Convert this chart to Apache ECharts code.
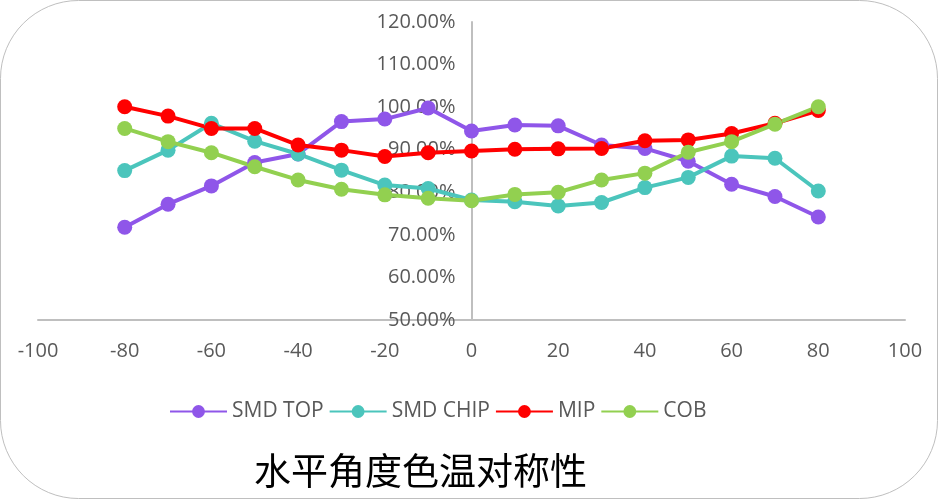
<!DOCTYPE html>
<html>
<head>
<meta charset="utf-8">
<script src="https://cdn.jsdelivr.net/npm/echarts@6/dist/echarts.min.js"></script>
<style>
html,body{margin:0;padding:0;background:#fff;}
#c{width:938px;height:499px;}
</style>
</head>
<body>
<div id="c"></div>
<script>
const angles = [-80,-70,-60,-50,-40,-30,-20,-10,0,10,20,30,40,50,60,70,80];
const smdTop  = [71.8,77.2,81.5,87.0,89.0,96.6,97.2,99.8,94.4,95.8,95.6,91.1,90.3,87.3,81.9,79.0,74.2];
const smdChip = [85.1,89.9,96.2,92.0,89.0,85.2,81.7,80.9,78.2,77.8,76.8,77.6,81.1,83.5,88.5,88.0,80.3];
const mip     = [100.1,97.9,95.0,95.0,91.1,89.9,88.4,89.3,89.7,90.1,90.2,90.3,92.1,92.3,93.8,96.2,99.2];
const cob     = [95.0,91.9,89.3,86.0,82.9,80.7,79.4,78.6,78.0,79.5,80.0,82.9,84.5,89.4,91.9,96.0,100.1];
const seriesNames = ['SMD TOP','SMD CHIP','MIP','COB'];
const seriesValues = [smdTop, smdChip, mip, cob];
const colors = ['#8F56E9','#4BC5BC','#FF0000','#92D050'];
const titleText = '水平角度色温对称性';

const chart = echarts.init(document.getElementById('c'));
const font = 'Open Sans';
const gridLeft = 38, gridRight = 33;
const plotWidth = 938 - gridLeft - gridRight;
chart.setOption({
  animation: false,
  backgroundColor: '#fff',
  title: {
    text: titleText,
    left: 249, top: 447,
    textStyle: {fontSize: 37, fontWeight: 'normal', color: '#000', fontFamily: 'Noto Sans CJK SC'}
  },
  legend: {
    data: seriesNames,
    top: 396, left: 164,
    itemWidth: 57, itemHeight: 16, itemGap: 5,
    textStyle: {fontSize: 21, color: '#595959', fontFamily: font}
  },
  grid: {left: gridLeft, right: gridRight, top: 22, bottom: 179, containLabel: false, outerBoundsMode: 'none'},
  xAxis: {
    type: 'value', min: -100, max: 100, interval: 20,
    axisLine: {lineStyle: {color: '#bfbfbf', width: 2}},
    axisTick: {show: false},
    splitLine: {show: false},
    axisLabel: {margin: 21, fontSize: 20, color: '#595959', fontFamily: font, showMinLabel: true, showMaxLabel: true}
  },
  yAxis: {
    type: 'value', min: 50, max: 120, interval: 10,
    offset: -plotWidth / 2,
    axisLine: {show: true, onZero: false, lineStyle: {color: '#bfbfbf', width: 2}},
    axisTick: {show: false},
    splitLine: {show: false},
    axisLabel: {margin: 16, fontSize: 20, color: '#595959', fontFamily: font,
      formatter: v => v.toFixed(2) + '%'}
  },
  graphic: [{
    type: 'rect', z: -10, silent: true,
    shape: {x: 0.5, y: 0.5, width: 937, height: 498, r: 78},
    style: {fill: 'none', stroke: '#bfbfbf', lineWidth: 1}
  }],
  series: seriesNames.map((n, i) => ({
    name: n, type: 'line',
    data: angles.map((a, j) => [a, seriesValues[i][j]]),
    symbol: 'circle', symbolSize: 15,
    color: colors[i],
    itemStyle: {color: colors[i]},
    lineStyle: {width: 4, color: colors[i]}
  }))
});
</script>
</body>
</html>
